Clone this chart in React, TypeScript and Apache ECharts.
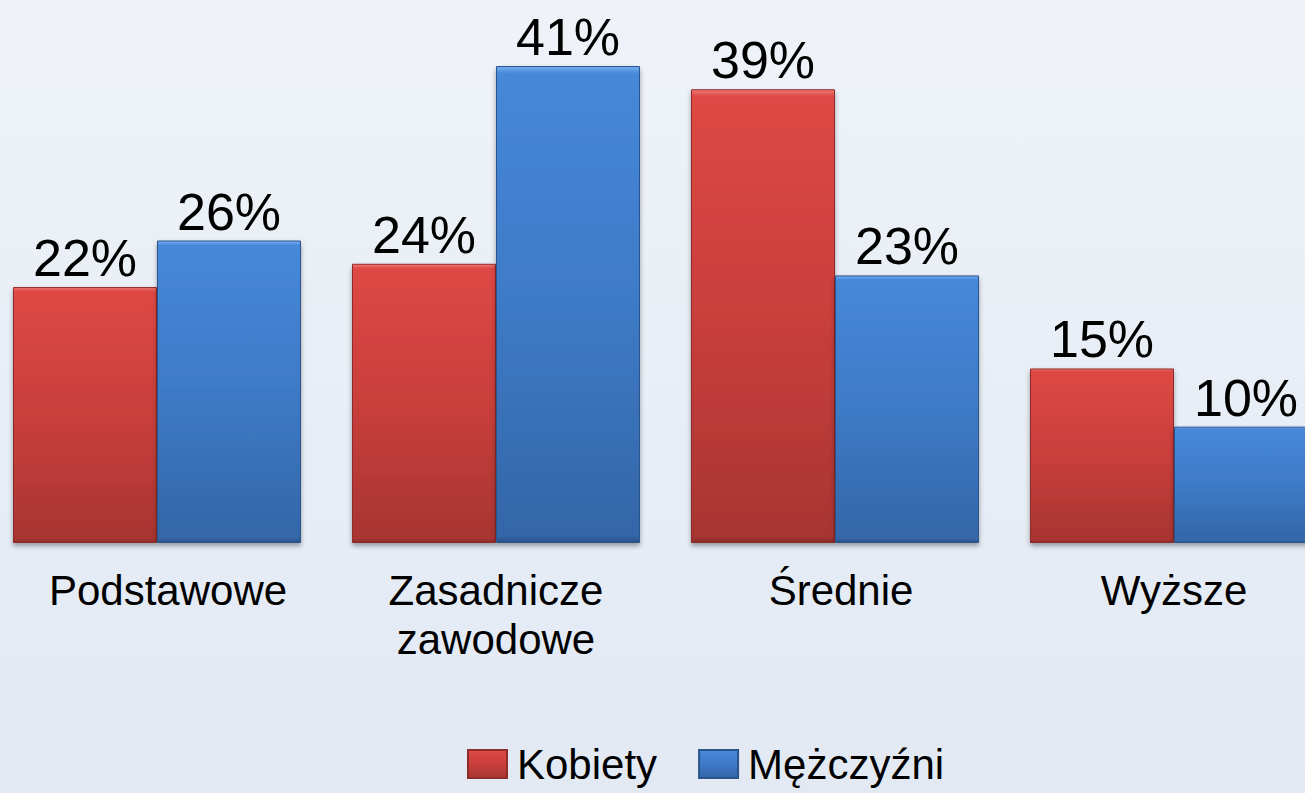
import React, { useEffect, useRef } from "react";
import * as echarts from "echarts";

const categories = ["Podstawowe", "Zasadnicze\nzawodowe", "Średnie", "Wyższe"];
const seriesNames = ["Kobiety", "Mężczyźni"];
const kobiety = [22, 24, 39, 15];
const mezczyzni = [26, 41, 23, 10];

const FONT = "'Liberation Sans', Arial, sans-serif";

const redFill = new echarts.graphic.LinearGradient(0, 0, 0, 1, [
  { offset: 0, color: "#f07873" },
  { offset: 0.015, color: "#de4844" },
  { offset: 0.5, color: "#c93f3b" },
  { offset: 0.985, color: "#a83532" },
  { offset: 1, color: "#8c2b28" },
]);
const blueFill = new echarts.graphic.LinearGradient(0, 0, 0, 1, [
  { offset: 0, color: "#77aef0" },
  { offset: 0.015, color: "#4688d9" },
  { offset: 0.5, color: "#3e7ac6" },
  { offset: 0.985, color: "#3466a8" },
  { offset: 1, color: "#2a5288" },
]);

export default function App() {
  const ref = useRef<HTMLDivElement>(null);
  useEffect(() => {
    const chart = echarts.init(ref.current!, null, { renderer: "svg" });
    const labelStyle = {
      show: true,
      position: "top",
      distance: 3,
      fontSize: 52,
      color: "#000",
      fontFamily: FONT,
      formatter: "{c}%",
    };
    chart.setOption({
      animation: false,
      backgroundColor: new echarts.graphic.LinearGradient(0, 0, 0, 1, [
        { offset: 0, color: "#eff3f9" },
        { offset: 1, color: "#e2e9f3" },
      ]),
      legend: {
        left: 462,
        top: 738,
        itemWidth: 39,
        itemHeight: 28,
        itemGap: 41,
        icon: "rect",
        textStyle: { fontSize: 42, color: "#000", fontFamily: FONT, padding: [0, 0, 0, 5] },
        data: seriesNames,
      },
      grid: {
        left: -12.5,
        width: 1356,
        top: 66,
        height: 477,
        containLabel: false,
        outerBoundsMode: "none",
      },
      xAxis: {
        type: "category",
        data: [
          { value: categories[0], textStyle: { padding: [0, 0, 0, 22] } },
          categories[1],
          { value: categories[2], textStyle: { padding: [0, 0, 0, 12] } },
          categories[3],
        ],
        axisLine: { show: false },
        axisTick: { show: false },
        axisLabel: {
          fontSize: 42,
          color: "#000",
          fontFamily: FONT,
          margin: 23,
          lineHeight: 49,
          interval: 0,
        },
      },
      yAxis: {
        type: "value",
        min: 0,
        max: 41,
        show: false,
        splitLine: { show: false },
      },
      series: [
        {
          name: seriesNames[0],
          type: "bar",
          data: kobiety,
          barWidth: 144,
          barGap: "0%",
          itemStyle: {
            color: redFill,
            borderColor: "#8f2c29",
            borderWidth: 1,
            shadowColor: "rgba(0,0,0,0.35)",
            shadowBlur: 5,
            shadowOffsetY: 3,
          },
          label: labelStyle,
        },
        {
          name: seriesNames[1],
          type: "bar",
          data: mezczyzni,
          barWidth: 144,
          barGap: "0%",
          itemStyle: {
            color: blueFill,
            borderColor: "#2b548c",
            borderWidth: 1,
            shadowColor: "rgba(0,0,0,0.35)",
            shadowBlur: 5,
            shadowOffsetY: 3,
          },
          label: labelStyle,
        },
      ],
    });
    return () => chart.dispose();
  }, []);
  return (
    <div
      ref={ref}
      style={{ position: "absolute", left: 0, top: 0, width: 1305, height: 793 }}
    />
  );
}
